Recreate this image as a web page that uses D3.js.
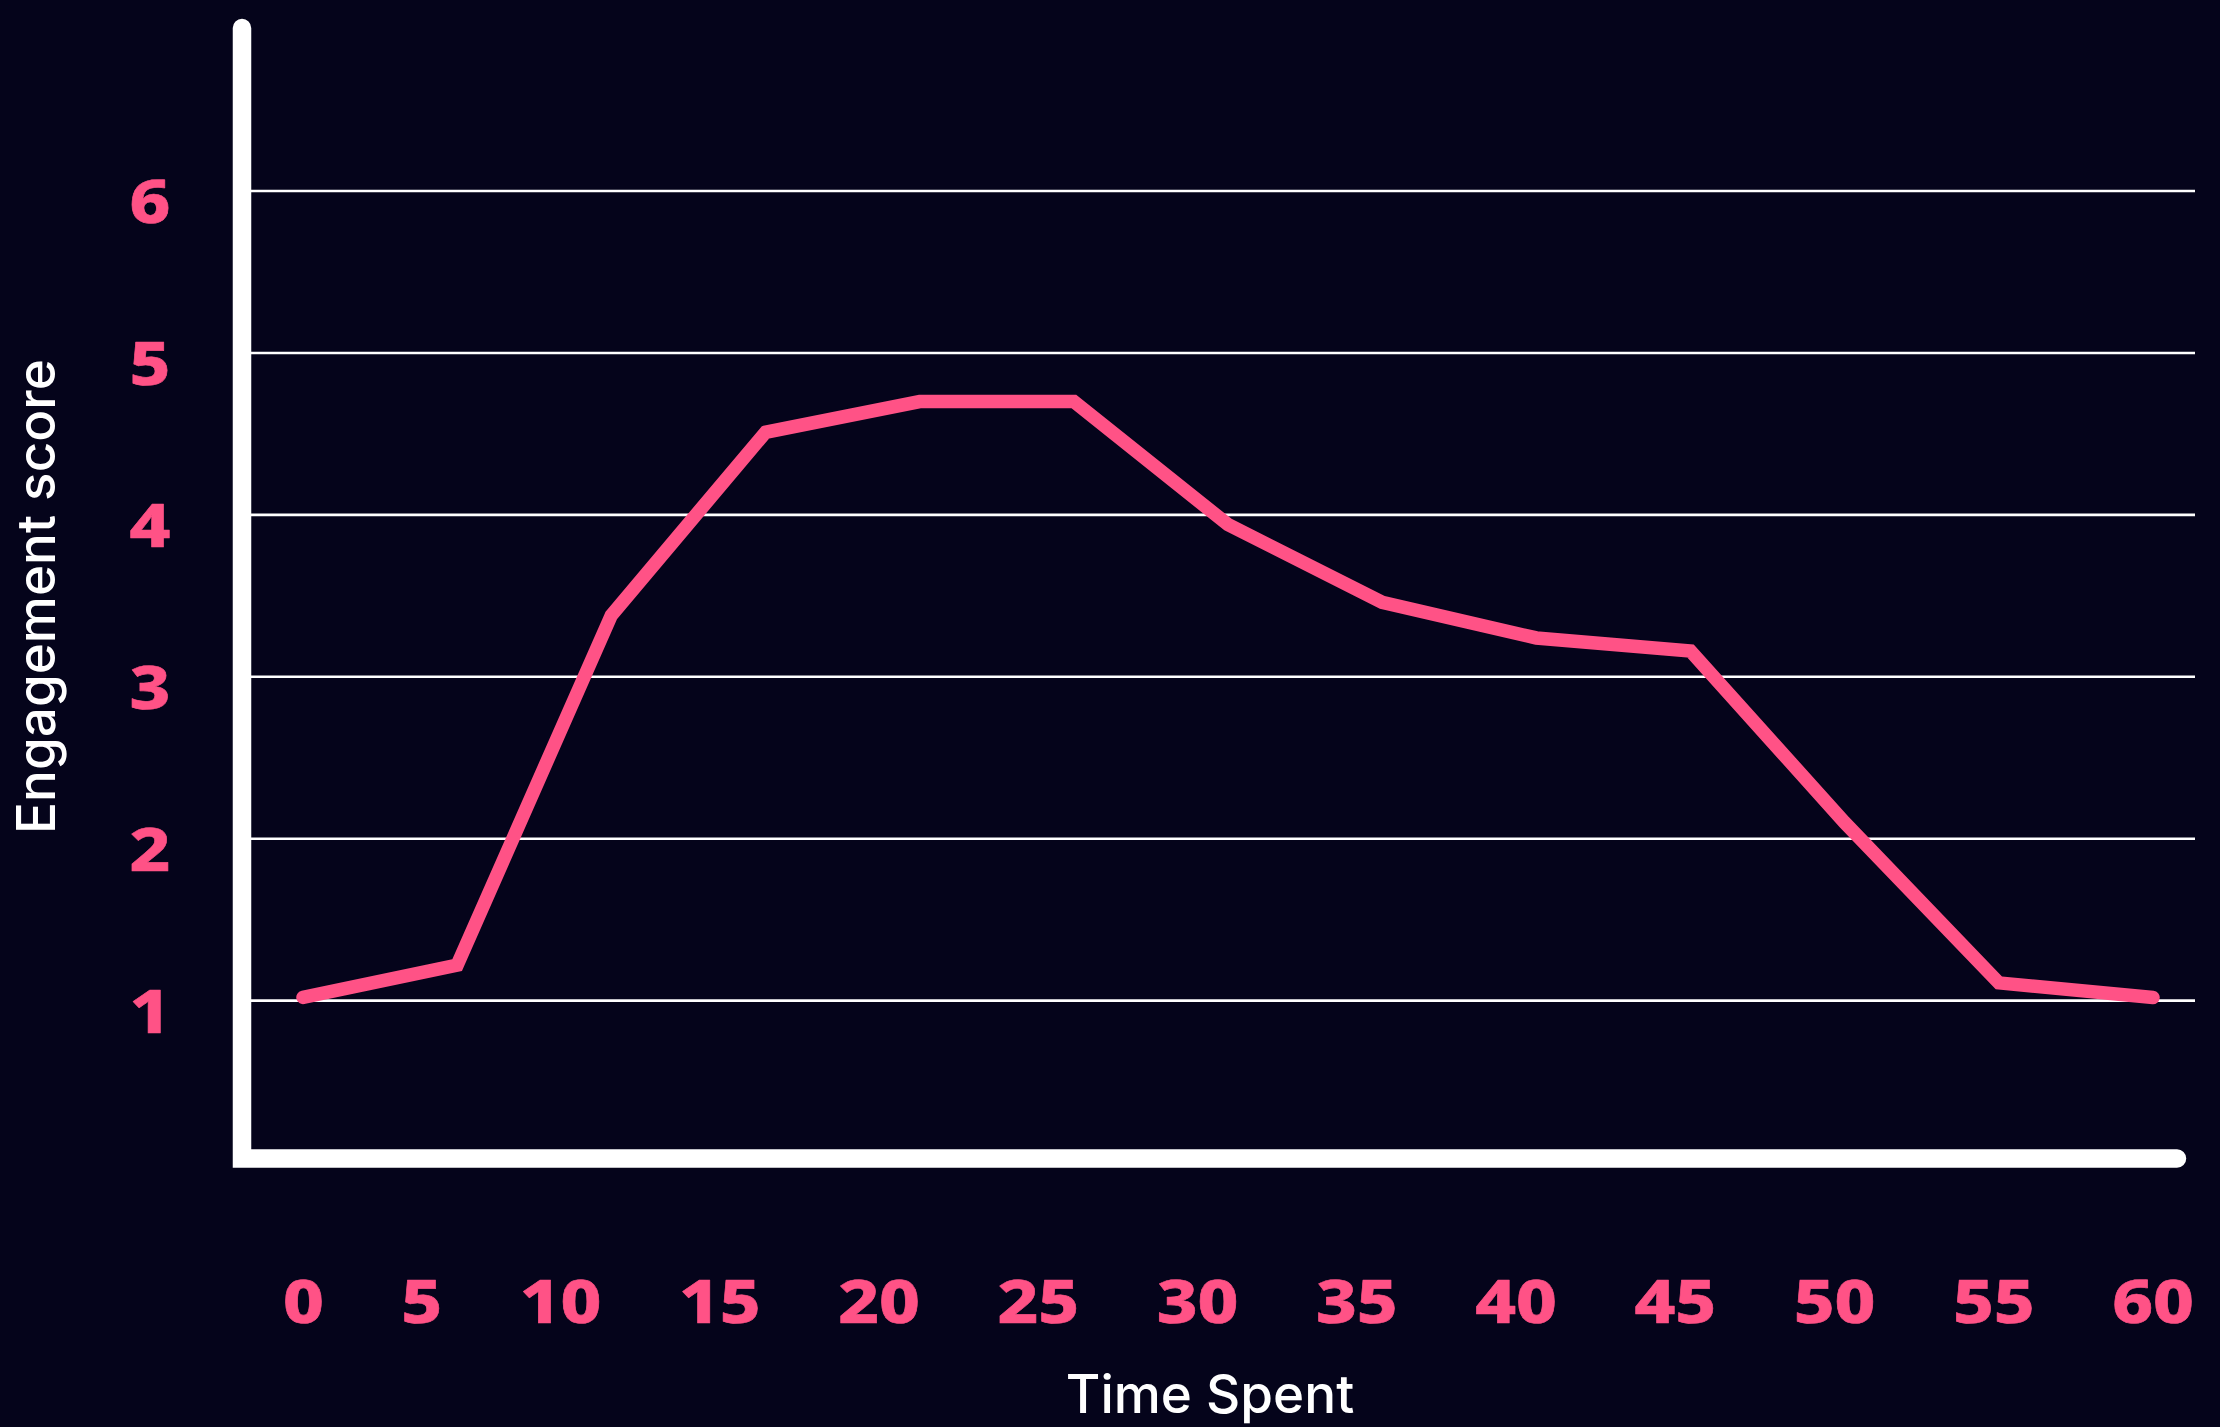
<!DOCTYPE html>
<html>
<head>
<meta charset="utf-8">
<script src="https://cdn.jsdelivr.net/npm/d3@7"></script>
<style>
  html, body { margin: 0; padding: 0; background: #05041b; }
  svg { display: block; }
</style>
</head>
<body>
<svg id="chart" width="2220" height="1427"></svg>
<script>
// ---- data ----
const timeSpent = [0, 5, 10, 15, 20, 25, 30, 35, 40, 45, 50, 55, 60];
const engagement = [1.02, 1.22, 3.38, 4.51, 4.70, 4.70, 3.94, 3.46, 3.24, 3.16, 2.10, 1.11, 1.02];
const xTickLabels = ["0", "5", "10", "15", "20", "25", "30", "35", "40", "45", "50", "55", "60"];
const yTickValues = [1, 2, 3, 4, 5, 6];
const xTitle = "Time Spent";
const yTitle = "Engagement score";

// ---- styles ----
const W = 2220, H = 1427;
const pink = "#ff5286";
const bg = "#05041b";
const tickFont = "'Noto Sans', 'Open Sans', sans-serif";
const titleFont = "Inter, 'Noto Sans', sans-serif";
const tickSize = 61, tickStretch = 1.16, tickStroke = 0.6;

const svg = d3.select("#chart");
svg.append("rect").attr("width", W).attr("height", H).attr("fill", bg);

const x = d3.scaleLinear().domain([0, 60]).range([303, 2153]);
const y = d3.scaleLinear().domain([0, 7]).range([1162.6, 29.1]);

const axisX = 242;          // vertical axis bar centre
const gridLeft = 251, gridRight = 2195;

// gridlines
svg.append("g").selectAll("line").data(yTickValues).join("line")
  .attr("x1", gridLeft).attr("x2", gridRight)
  .attr("y1", d => y(d)).attr("y2", d => y(d))
  .attr("stroke", "#ffffff").attr("stroke-width", 2.6);

// axis frame (L-shape)
const baseY = 1158.5;
svg.append("path")
  .attr("d", `M${axisX},28 V${baseY} H2177`)
  .attr("fill", "none").attr("stroke", "#ffffff")
  .attr("stroke-width", 18.5)
  .attr("stroke-linecap", "round").attr("stroke-linejoin", "miter");

function tickStyle(sel) {
  return sel.attr("font-family", tickFont).attr("font-weight", 800)
    .attr("font-size", tickSize).attr("fill", pink)
    .attr("stroke", pink).attr("stroke-width", tickStroke)
    .attr("stroke-linejoin", "round");
}

// y tick labels
tickStyle(svg.append("g").selectAll("text").data(yTickValues).join("text")
  .attr("transform", d => `translate(150,${y(d) + 32})scale(${tickStretch},1)`)
  .attr("text-anchor", "middle")
  .text(d => d));

// x tick labels: evenly gapped between first and last
const xl = tickStyle(svg.append("g").selectAll("text").data(xTickLabels).join("text")
  .text(d => d));
const widths = [];
xl.each(function() { widths.push(this.getComputedTextLength() * tickStretch); });
const left = 283, right = 2194;
const totalW = d3.sum(widths);
const gap = (right - left - totalW) / (widths.length - 1);
let cur = left;
xl.each(function(d, i) {
  d3.select(this).attr("transform", `translate(${cur},1323)scale(${tickStretch},1)`);
  cur += widths[i] + gap;
});

// line
const line = d3.line().x((d, i) => x(timeSpent[i])).y(d => y(d));
svg.append("path").datum(engagement)
  .attr("d", line)
  .attr("fill", "none").attr("stroke", pink)
  .attr("stroke-width", 13.5)
  .attr("stroke-linecap", "round").attr("stroke-linejoin", "miter");

// titles
svg.append("text")
  .attr("transform", "translate(55,596.5) rotate(-90)")
  .attr("text-anchor", "middle")
  .attr("font-family", titleFont).attr("font-weight", 500)
  .attr("font-size", 53).attr("fill", "#ffffff")
  .text(yTitle);

svg.append("text")
  .attr("x", 1210).attr("y", 1413)
  .attr("text-anchor", "middle")
  .attr("font-family", titleFont).attr("font-weight", 500)
  .attr("font-size", 53).attr("fill", "#ffffff")
  .text(xTitle);
</script>
</body>
</html>
